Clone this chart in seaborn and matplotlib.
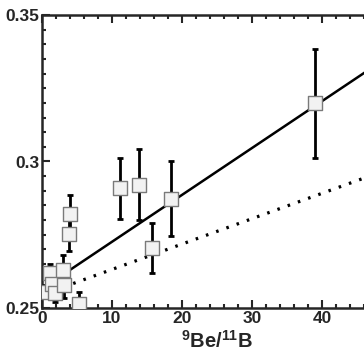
import numpy as np
import pandas as pd
import seaborn as sns
import matplotlib
matplotlib.use("Agg")
import matplotlib.pyplot as plt
from matplotlib.ticker import MultipleLocator

be_b = [0.4, 1.1, 1.4, 1.9, 3.0, 3.2, 3.85, 4.0, 5.3, 11.1, 13.9, 15.7, 18.4, 39.0]
li_ratio = [0.2555, 0.2620, 0.2583, 0.2551, 0.2628, 0.2580, 0.2753, 0.2822, 0.2515, 0.2908, 0.2921, 0.2705, 0.2873, 0.3198]
li_err = [0.0022, 0.0030, 0.0030, 0.0032, 0.0052, 0.0045, 0.0060, 0.0062, 0.0040, 0.0105, 0.0120, 0.0085, 0.0128, 0.0185]

# fitted lines (end points)
fit_x = [1.5, 50.0]
fit_y = [0.2590, 0.3366]
model_x = [3.0, 50.0]
model_y = [0.2571, 0.2978]

x_ticks = [0, 10, 20, 30, 40, 50]
x_labels = ["0", "10", "20", "30", "40", ""]

df = pd.DataFrame({"x": be_b, "y": li_ratio, "err": li_err})

sns.set_style("ticks")
plt.rcParams["font.family"] = ["Liberation Sans", "DejaVu Sans"]
plt.rcParams["font.weight"] = "bold"
plt.rcParams["mathtext.fontset"] = "custom"
plt.rcParams["mathtext.rm"] = "Liberation Sans:bold"
plt.rcParams["mathtext.bf"] = "Liberation Sans:bold"

fig = plt.figure(figsize=(3.64, 3.64), dpi=100)
ax = fig.add_axes([42 / 364, 56 / 364, 350 / 364, 293 / 364])

sns.lineplot(x=fit_x, y=fit_y, ax=ax, color="black", lw=1.8)
sns.lineplot(x=model_x, y=model_y, ax=ax, color="black", lw=2.3,
             linestyle=(0, (0.8, 2.6)))
ax.errorbar(df["x"], df["y"], yerr=df["err"], fmt="none", ecolor="black",
            elinewidth=2.0, capsize=2.5, capthick=2.0, zorder=3)
sns.scatterplot(data=df, x="x", y="y", ax=ax, marker="s", s=90,
                facecolor="#f2f2f2", edgecolor="#7a7a7a", linewidth=1.0,
                zorder=4)

ax.set_xlim(0, 50)
ax.set_ylim(0.25, 0.35)
ax.set_xticks(x_ticks)
ax.set_xticklabels(x_labels)
ax.xaxis.set_minor_locator(MultipleLocator(2))
ax.yaxis.set_minor_locator(MultipleLocator(0.005))
ax.set_yticks([0.25, 0.3, 0.35])
ax.set_yticklabels(["0.25", "0.3", "0.35"])

ax.tick_params(which="both", direction="in", top=True, right=False,
               width=1.5, labelsize=12.5)
ax.tick_params(which="major", length=5.5, pad=2)
ax.tick_params(which="minor", length=3)
for s in ["left", "bottom", "top"]:
    ax.spines[s].set_linewidth(1.8)
ax.spines["right"].set_visible(False)

ax.set_xlabel(r"$^{9}$Be/$^{11}$B", fontsize=14.5, fontweight="bold", labelpad=3)
ax.set_ylabel("")

fig.savefig("out.png", dpi=100)
